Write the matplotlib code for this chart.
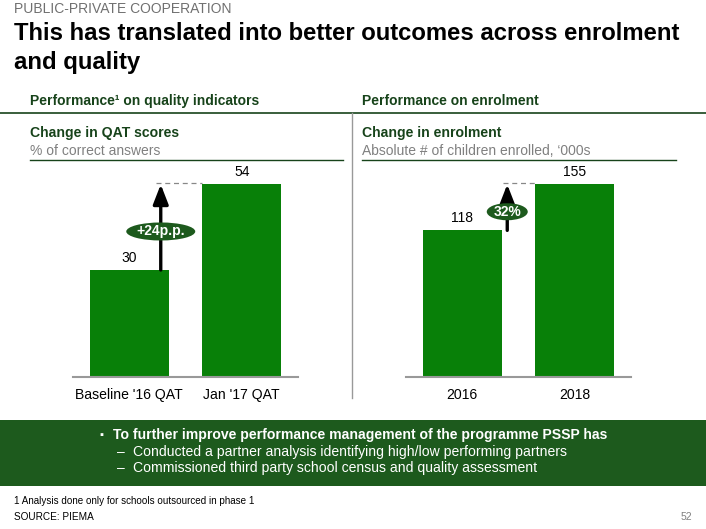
import matplotlib
matplotlib.use("Agg")
import matplotlib.pyplot as plt
from matplotlib.patches import Ellipse
from matplotlib.transforms import IdentityTransform

plt.rcParams['font.family'] = ['Liberation Sans', 'DejaVu Sans']

# ---- data ----
qat_labels = ["Baseline '16 QAT", "Jan '17 QAT"]
qat_values = [30, 54]
qat_change = "+24p.p."
enr_labels = ["2016", "2018"]
enr_values = [118, 155]
enr_change = "32%"

W, H = 706, 529
BAR = "#088008"
DARK = "#1D5A1D"
HEAD = "#17431A"
GRAY = "#808080"

fig = plt.figure(figsize=(W / 100, H / 100), dpi=100)
bg = fig.add_axes([0, 0, 1, 1], zorder=0)
bg.set_xlim(0, W)
bg.set_ylim(H, 0)
bg.axis('off')

# header texts
bg.text(14, 9, "PUBLIC-PRIVATE COOPERATION", fontsize=10, color="#707070", va='center')
bg.text(14, 33, "This has translated into better outcomes across enrolment", fontsize=17.2,
        weight='bold', color='black', va='center')
bg.text(14, 62, "and quality", fontsize=17.2, weight='bold', color='black', va='center')

bg.text(30, 101, "Performance\u00b9 on quality indicators", fontsize=10, weight='bold', color=HEAD, va='center')
bg.text(362, 101, "Performance on enrolment", fontsize=10, weight='bold', color=HEAD, va='center')
bg.plot([0, W], [113, 113], color=HEAD, lw=1.2)
bg.plot([352, 352], [113, 398], color="#999999", lw=1)

bg.text(30, 133, "Change in QAT scores", fontsize=10.1, weight='bold', color=HEAD, va='center')
bg.text(30, 151, "% of correct answers", fontsize=10, color=GRAY, va='center')
bg.plot([30, 343], [160, 160], color=HEAD, lw=1)
bg.text(362, 133, "Change in enrolment", fontsize=10.1, weight='bold', color=HEAD, va='center')
bg.text(362, 151, "Absolute # of children enrolled, \u2018000s", fontsize=10, color=GRAY, va='center')
bg.plot([362, 676], [160, 160], color=HEAD, lw=1)

# bottom band
bg.add_patch(plt.Rectangle((0, 420), W, 66, color=DARK, lw=0))
bg.text(99, 435, "\u25aa", fontsize=8, color='white', va='center')
bg.text(113, 435, "To further improve performance management of the programme PSSP has",
        fontsize=10.1, weight='bold', color='white', va='center')
bg.text(117, 452, "\u2013", fontsize=10, color='white', va='center')
bg.text(133, 452, "Conducted a partner analysis identifying high/low performing partners",
        fontsize=10.1, color='white', va='center')
bg.text(117, 468, "\u2013", fontsize=10, color='white', va='center')
bg.text(133, 468, "Commissioned third party school census and quality assessment",
        fontsize=10.1, color='white', va='center')

bg.text(14, 501, "1 Analysis done only for schools outsourced in phase 1", fontsize=7.1, color='black', va='center')
bg.text(14, 517, "SOURCE: PIEMA", fontsize=7.2, color='black', va='center')
bg.text(692, 517, "52", fontsize=7.5, color=GRAY, va='center', ha='right')


def bar_panel(left_px, labels, values, change, arrow_x, ell_y, ytop, ell_w, ell_h):
    ax = fig.add_axes([left_px / W, (H - 377) / H, 225 / W, 214 / H], zorder=2)
    ax.set_xlim(-0.5, 1.5)
    ax.set_ylim(0, ytop)
    x = [0, 1]
    ax.bar(x, values, width=0.7, color=BAR, zorder=2)
    for xi, v in zip(x, values):
        ax.text(xi, v + ytop * 0.025, f"{v}", ha='center', va='bottom', fontsize=10, color='black')
    ax.set_xticks(x)
    ax.set_xticklabels(labels, fontsize=10.1)
    ax.tick_params(axis='x', length=0, pad=8)
    ax.set_yticks([])
    for s in ['top', 'left', 'right']:
        ax.spines[s].set_visible(False)
    ax.spines['bottom'].set_color('#999999')
    ax.spines['bottom'].set_linewidth(1.5)
    ax.patch.set_alpha(0)
    # dashed guide
    ax.plot([arrow_x - 0.04, 0.65], [values[1] + ytop * 0.008] * 2, ls=(0, (4, 3)),
            color='#888888', lw=0.9, zorder=1)
    # arrow
    ax.annotate('', xy=(arrow_x, values[1]), xytext=(arrow_x, values[0]),
                arrowprops=dict(arrowstyle='-|>,head_width=0.33,head_length=0.85', lw=2.4,
                                color='black', shrinkA=0, shrinkB=0, mutation_scale=14),
                zorder=3)
    cx, cy = ax.transData.transform((arrow_x, ell_y))
    el = Ellipse((cx, cy), ell_w, ell_h, transform=IdentityTransform(), fc=DARK, ec='none',
                 zorder=4, clip_on=False)
    ax.add_artist(el)
    ax.text(arrow_x, ell_y, change, ha='center', va='center', fontsize=10, weight='bold',
            color='white', zorder=5)
    return ax


bar_panel(73, qat_labels, qat_values, qat_change, 0.28, 40.8, 60, 69, 18)
bar_panel(406, enr_labels, enr_values, enr_change, 0.40, 133, 155 * 60 / 54, 41, 17)

fig.savefig("out.png", dpi=100)
